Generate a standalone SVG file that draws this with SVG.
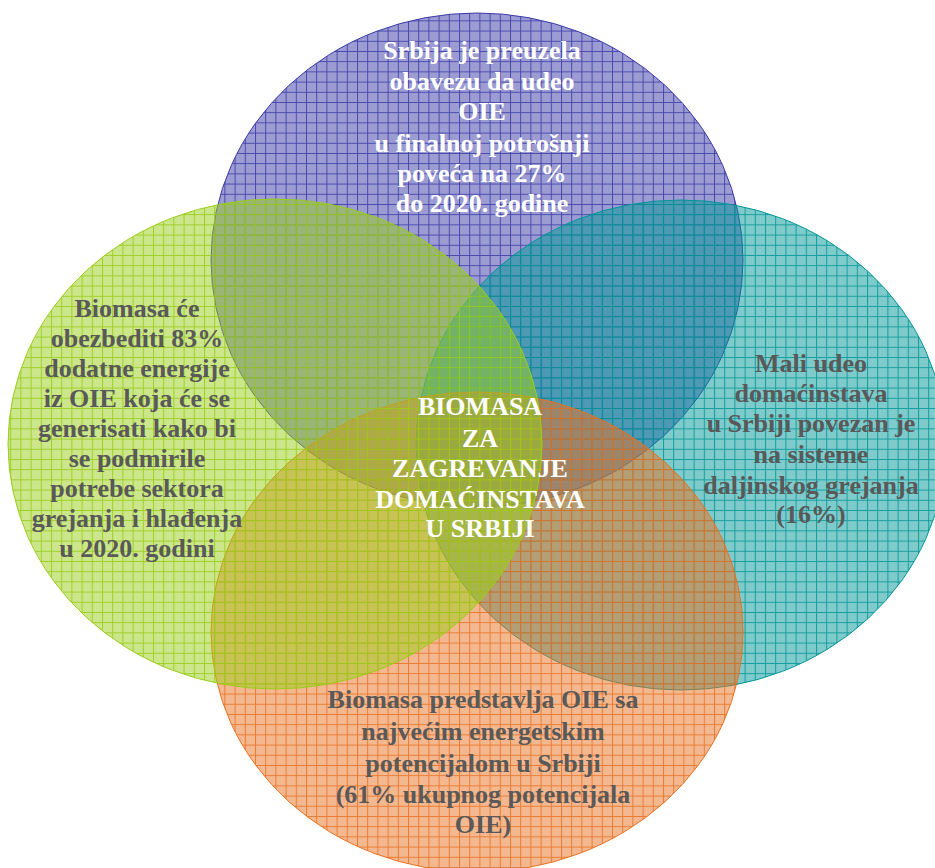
<svg xmlns="http://www.w3.org/2000/svg" width="935" height="868" viewBox="0 0 935 868">
<defs>
<style>
.t{font-family:"Liberation Serif","Times New Roman",serif;font-weight:bold;font-size:26px;text-anchor:middle}
.w{fill:#ffffff}
.g{fill:#595959}
</style>
<pattern id="pBlue" width="10.2" height="10.2" patternUnits="userSpaceOnUse">
<rect width="10.2" height="10.2" fill="#3a3aa8" fill-opacity="0.5"/>
<path d="M0 0.5H10.2M0.5 0V10.2" stroke="#3a3aa8" stroke-opacity="0.85" stroke-width="1"/>
</pattern>
<pattern id="pGreen" width="10.2" height="10.2" patternUnits="userSpaceOnUse">
<rect width="10.2" height="10.2" fill="#9acd19" fill-opacity="0.5"/>
<path d="M0 0.5H10.2M0.5 0V10.2" stroke="#9acd19" stroke-opacity="0.9" stroke-width="1"/>
</pattern>
<pattern id="pTeal" width="10.2" height="10.2" patternUnits="userSpaceOnUse">
<rect width="10.2" height="10.2" fill="#009696" fill-opacity="0.5"/>
<path d="M0 0.5H10.2M0.5 0V10.2" stroke="#009696" stroke-opacity="0.85" stroke-width="1"/>
</pattern>
<pattern id="pOrange" width="10.2" height="10.2" patternUnits="userSpaceOnUse">
<rect width="10.2" height="10.2" fill="#e97121" fill-opacity="0.5"/>
<path d="M0 0.5H10.2M0.5 0V10.2" stroke="#e97121" stroke-opacity="0.85" stroke-width="1"/>
</pattern>
</defs>
<rect width="935" height="868" fill="#ffffff"/>
<g id="connectors"/>
<g id="node-blue">
<ellipse cx="477" cy="260" rx="266" ry="247" fill="url(#pBlue)" stroke="#3a3aa8" stroke-width="1"/>
<text class="t w"><tspan x="482" y="59">Srbija je preuzela</tspan><tspan x="482" y="90">obavezu da udeo</tspan><tspan x="482" y="120">OIE</tspan><tspan x="482" y="152">u finalnoj potrošnji</tspan><tspan x="482" y="182">poveća na 27%</tspan><tspan x="482" y="212">do 2020. godine</tspan></text>
</g>
<g id="node-teal">
<ellipse cx="681" cy="445" rx="265" ry="245" fill="url(#pTeal)" stroke="#009696" stroke-width="1"/>
<text class="t g"><tspan x="811" y="372">Mali udeo</tspan><tspan x="811" y="402">domaćinstava</tspan><tspan x="811" y="432">u Srbiji povezan je</tspan><tspan x="811" y="463">na sisteme</tspan><tspan x="811" y="494">daljinskog grejanja</tspan><tspan x="811" y="523">(16%)</tspan></text>
</g>
<g id="node-orange">
<ellipse cx="477" cy="632" rx="266" ry="240" fill="url(#pOrange)" stroke="#e97121" stroke-width="1"/>
<text class="t g"><tspan x="483" y="708">Biomasa predstavlja OIE sa</tspan><tspan x="483" y="740">najvećim energetskim</tspan><tspan x="483" y="772">potencijalom u Srbiji</tspan><tspan x="483" y="803">(61% ukupnog potencijala</tspan><tspan x="483" y="833">OIE)</tspan></text>
</g>
<g id="node-green">
<ellipse cx="275" cy="444" rx="267" ry="245" fill="url(#pGreen)" stroke="#9acd19" stroke-width="1"/>
<text class="t g"><tspan x="137" y="317">Biomasa će</tspan><tspan x="137" y="347">obezbediti 83%</tspan><tspan x="137" y="377">dodatne energije</tspan><tspan x="137" y="407">iz OIE koja će se</tspan><tspan x="137" y="437">generisati kako bi</tspan><tspan x="137" y="467">se podmirile</tspan><tspan x="137" y="497">potrebe sektora</tspan><tspan x="137" y="527">grejanja i hlađenja</tspan><tspan x="137" y="557">u 2020. godini</tspan></text>
</g>
<g id="node-center">
<text class="t w"><tspan x="480" y="415">BIOMASA</tspan><tspan x="480" y="447">ZA</tspan><tspan x="480" y="477">ZAGREVANJE</tspan><tspan x="480" y="508">DOMAĆINSTAVA</tspan><tspan x="480" y="537">U SRBIJI</tspan></text>
</g>
</svg>
